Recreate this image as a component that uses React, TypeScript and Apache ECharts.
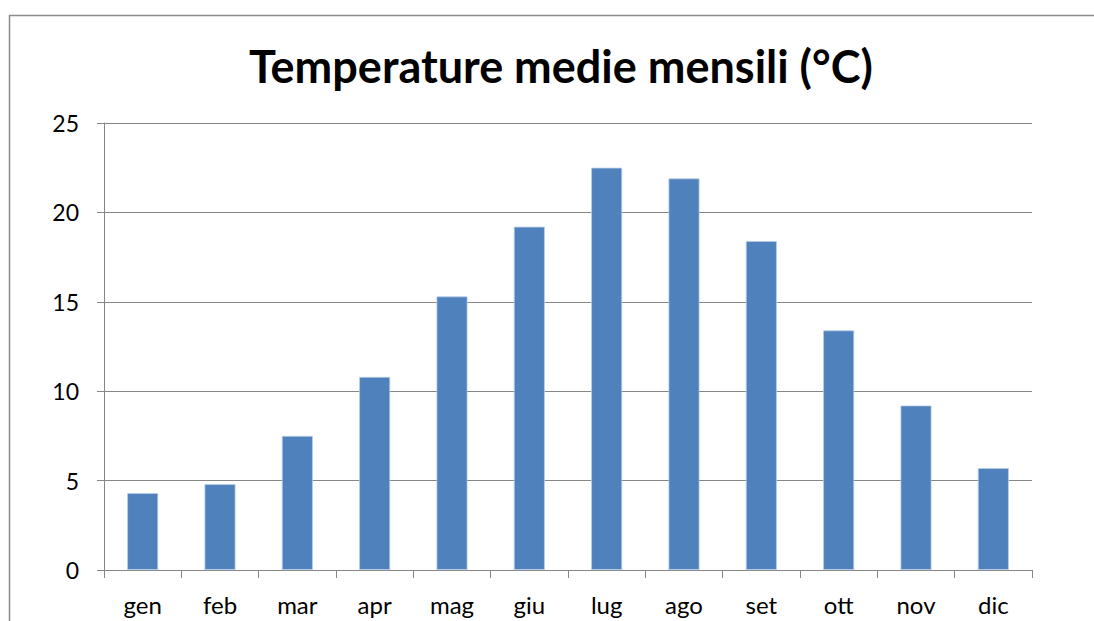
import React, { useEffect, useRef } from "react";
import * as echarts from "echarts";

const months = ["gen", "feb", "mar", "apr", "mag", "giu", "lug", "ago", "set", "ott", "nov", "dic"];
const temperatures = [4.3, 4.8, 7.5, 10.8, 15.3, 19.2, 22.5, 21.9, 18.4, 13.4, 9.2, 5.7];
const titleText = "Temperature medie mensili (°C)";

export default function App() {
  const ref = useRef<HTMLDivElement>(null);
  useEffect(() => {
    if (!ref.current) return;
    const chart = echarts.init(ref.current, null, { renderer: "svg" });
    const font = "Lato, 'Open Sans', sans-serif";
    chart.setOption({
      animation: false,
      backgroundColor: "#ffffff",
      graphic: [
        {
          type: "rect",
          shape: { x: 9.5, y: 15.5, width: 1200, height: 700 },
          style: { fill: "none", stroke: "#8c8c8c", lineWidth: 1.5 },
          silent: true,
        },
      ],
      title: {
        text: titleText,
        left: 244,
        top: 38,
        textStyle: { fontFamily: font, fontWeight: "bold", fontSize: 45, color: "#000" },
      },
      grid: { left: 104, right: 62, top: 123, bottom: 51 },
      xAxis: {
        type: "category",
        data: months,
        axisLine: { lineStyle: { color: "#868686", width: 1 } },
        axisTick: { show: true, length: 8, lineStyle: { color: "#868686" } },
        axisLabel: { color: "#000", fontFamily: font, fontSize: 24, margin: 22 },
      },
      yAxis: {
        type: "value",
        min: 0,
        max: 25,
        interval: 5,
        axisLine: { show: true, lineStyle: { color: "#868686", width: 1 } },
        axisTick: { show: true, length: 7, lineStyle: { color: "#868686" } },
        splitLine: { show: true, lineStyle: { color: "#868686", width: 1 } },
        axisLabel: { color: "#000", fontFamily: font, fontSize: 23, margin: 25 },
      },
      series: [
        {
          type: "bar",
          data: temperatures,
          barWidth: 31,
          itemStyle: { color: "#4F81BD", borderColor: "#B9CDE5", borderWidth: 0.8 },
        },
      ],
    });
    return () => chart.dispose();
  }, []);
  return <div ref={ref} style={{ position: "fixed", left: 0, top: 0, width: 1094, height: 621 }} />;
}
